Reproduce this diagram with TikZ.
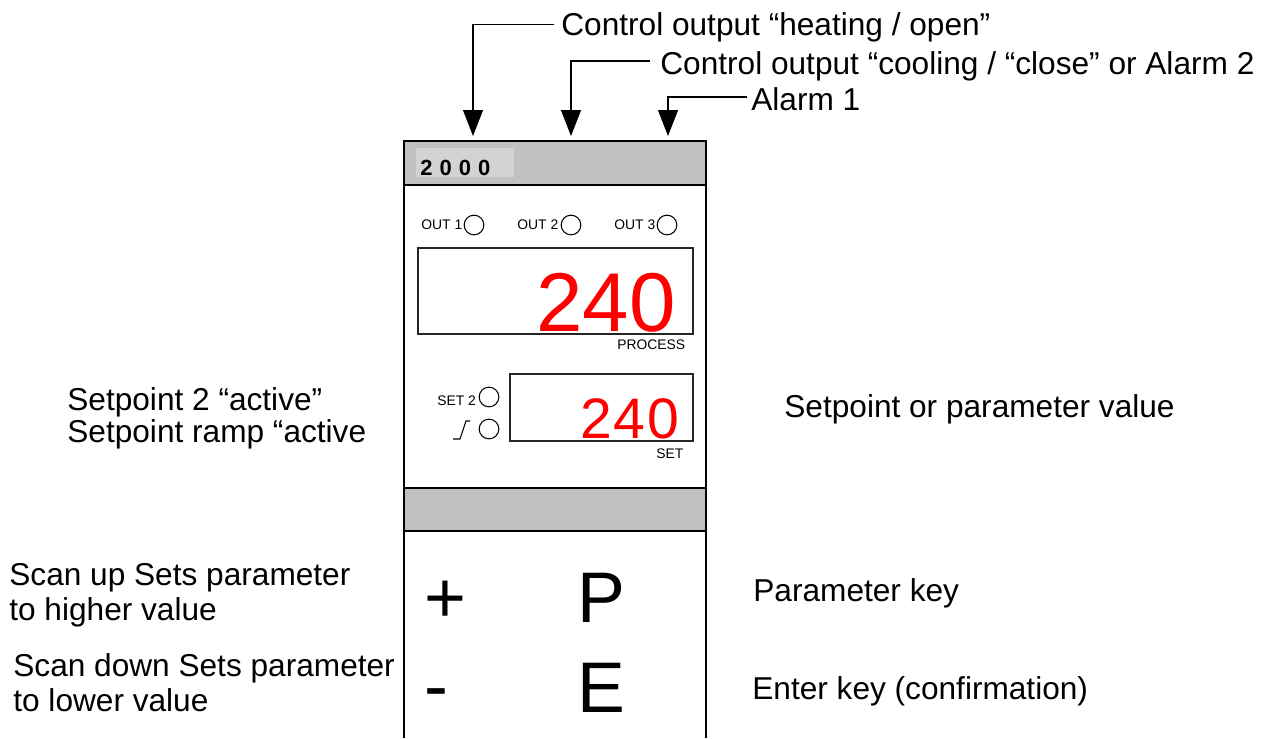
\documentclass[tikz,border=0pt]{standalone}
\usepackage{fontspec}
\setmainfont{Liberation Sans}
\usetikzlibrary{arrows.meta}
\definecolor{bandgray}{HTML}{C0C0C0}
\definecolor{paneltag}{HTML}{D3D3D3}
\definecolor{dispred}{HTML}{FF0000}
\begin{document}
\begin{tikzpicture}[x=0.02cm,y=-0.02cm,
 lbl/.style={anchor=base west,inner sep=0pt,font=\fontsize{18}{20}\selectfont},
 small/.style={anchor=base west,inner sep=0pt,font=\fontsize{7.9}{9}\selectfont},
 led/.style={circle,draw,line width=0.6pt,minimum size=11.2pt,inner sep=0pt},
 disp/.style={draw=black!85,line width=0.6pt},
 band/.style={draw,line width=1.1pt,fill=bandgray},
 frame/.style={line width=1.1pt},
 conn/.style={line width=0.6pt,-{Triangle[length=14.7pt,width=11.3pt]}},
 keyc/.style={anchor=base west,inner sep=0pt,font=\fontsize{40.8}{44}\selectfont},
 red240/.style={anchor=base east,inner sep=0pt,text=dispred},
]
\useasboundingbox (0,0) rectangle (1273,738);

% device body
\draw[band] (404,141) rectangle (706,185);
\fill[paneltag] (416,148) rectangle (514,177);
\node[anchor=base west,inner sep=0pt,font=\fontsize{12.5}{14}\selectfont\bfseries] (model) at (420,175) {2\hspace{4pt}0\hspace{4pt}0\hspace{4pt}0};
\draw[band] (404,488) rectangle (706,531);
\draw[frame] (404,185) -- (404,738);
\draw[frame] (706,185) -- (706,738);

% output LEDs
\node[small] (out1) at (421,229) {OUT 1};
\node[led] (led1) at (474,225) {};
\node[small] (out2) at (517,229) {OUT 2};
\node[led] (led2) at (571,225) {};
\node[small] (out3) at (614,229) {OUT 3};
\node[led] (led3) at (667,225) {};

% process display
\draw[disp] (418,248) rectangle (693,334);
\node[red240,font=\fontsize{47.5}{50}\selectfont] (pv) at (676,331) {240};
\node[small] (proc) at (617,349) {PROCESS};

% setpoint display
\draw[disp] (510,374) rectangle (693,441);
\node[red240,font=\fontsize{32.5}{35}\selectfont] (sv) at (680,438) {2\kern1.2pt4\kern1.2pt0};
\node[small] (setl) at (656,458) {SET};
\node[small] (set2) at (437,405) {SET 2};
\node[led] (ledset2) at (489,397) {};
\draw[line width=0.6pt] (453,439) -- (460,439) -- (466,421) -- (470,421);
\node[led] (ledramp) at (489,429) {};

% keys
\node[keyc] (kplus) at (424,622) {+};
\node[keyc] (kp) at (577,622) {P};
\node[keyc] (kminus) at (424,710) {-};
\node[keyc] (ke) at (577,712) {E};

% labels
\node[lbl] (lab1) at (561,35) {Control output “heating / open”};
\node[lbl] (lab2) at (660,74) {Control output “cooling / “close” or Alarm 2};
\node[lbl] (lab3) at (751,110) {Alarm 1};
\node[lbl] (sp2a) at (67,410) {Setpoint 2 “active”};
\node[lbl] (sp2b) at (67,442) {Setpoint ramp “active};
\node[lbl] (spv) at (784,417) {Setpoint or parameter value};
\node[lbl] (upa) at (9,585) {Scan up Sets parameter};
\node[lbl] (upb) at (9,620) {to higher value};
\node[lbl] (dna) at (13,676) {Scan down Sets parameter};
\node[lbl] (dnb) at (13,711) {to lower value};
\node[lbl] (pkey) at (753,601) {Parameter key};
\node[lbl] (ekey) at (752,699) {Enter key (confirmation)};

% connectors
\coordinate (a1) at (473,136);
\coordinate (a2) at (571,136);
\coordinate (a3) at (668,136);
\draw[conn] ([xshift=-4pt,yshift=6.2pt]lab1.base west) -| (a1);
\draw[conn] ([xshift=-5.7pt,yshift=7.4pt]lab2.base west) -| (a2);
\draw[conn] ([xshift=-2.3pt,yshift=7.4pt]lab3.base west) -| (a3);
\end{tikzpicture}
\end{document}
